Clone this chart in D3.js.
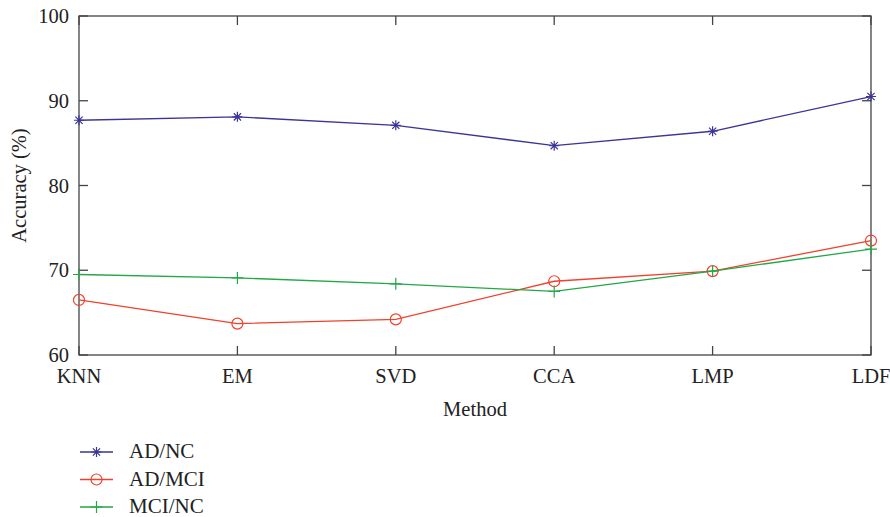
<!DOCTYPE html>
<html><head><meta charset="utf-8">
<script src="https://cdn.jsdelivr.net/npm/d3@7"></script>
<style>body{margin:0;background:#fff}svg{display:block}text{font-family:"Liberation Serif","DejaVu Serif",serif;fill:#222}</style>
</head><body><svg id="c" width="890" height="517"></svg>
<script>
const categories = ["KNN","EM","SVD","CCA","LMP","LDF"];
const adNC  = [87.7, 88.1, 87.1, 84.7, 86.4, 90.5];
const adMCI = [66.5, 63.7, 64.2, 68.7, 69.9, 73.5];
const mciNC = [69.5, 69.1, 68.4, 67.5, 69.9, 72.5];
const yTicks = [60, 70, 80, 90, 100];
const seriesNames = ["AD/NC","AD/MCI","MCI/NC"];

const series = [
  {name: seriesNames[0], values: adNC, color: "#3b3597", marker: "star"},
  {name: seriesNames[1], values: adMCI, color: "#f2402c", marker: "circle"},
  {name: seriesNames[2], values: mciNC, color: "#22a846", marker: "plus"}
];

const L = 79, R = 871, T = 16, B = 355;
const svg = d3.select("#c");
const x = d3.scalePoint().domain(categories).range([L, R]);
const y = d3.scaleLinear().domain([60, 100]).range([B, T]);
const axisColor = "#444";
const fs = 20.5;

svg.append("rect").attr("x", L).attr("y", T).attr("width", R - L).attr("height", B - T)
  .attr("fill", "none").attr("stroke", axisColor).attr("stroke-width", 1.3);

const tl = 9;
categories.forEach(c => {
  const xx = x(c);
  svg.append("line").attr("x1", xx).attr("x2", xx).attr("y1", B).attr("y2", B - tl).attr("stroke", axisColor).attr("stroke-width", 1.3);
  svg.append("line").attr("x1", xx).attr("x2", xx).attr("y1", T).attr("y2", T + tl).attr("stroke", axisColor).attr("stroke-width", 1.3);
  svg.append("text").attr("x", xx).attr("y", 383).attr("text-anchor", "middle").attr("font-size", fs).text(c);
});
yTicks.forEach(v => {
  const yy = y(v);
  svg.append("line").attr("x1", L).attr("x2", L + tl).attr("y1", yy).attr("y2", yy).attr("stroke", axisColor).attr("stroke-width", 1.3);
  svg.append("line").attr("x1", R).attr("x2", R - tl).attr("y1", yy).attr("y2", yy).attr("stroke", axisColor).attr("stroke-width", 1.3);
  svg.append("text").attr("x", 69).attr("y", yy + 7).attr("text-anchor", "end").attr("font-size", fs).text(v);
});

svg.append("text").attr("x", (L + R) / 2).attr("y", 416).attr("text-anchor", "middle").attr("font-size", fs).text("Method");
svg.append("text").attr("transform", `translate(26,${(T + B) / 2}) rotate(-90)`).attr("text-anchor", "middle").attr("font-size", fs).text("Accuracy (%)");

function drawMarker(g, type, cx, cy, color) {
  if (type === "circle") {
    g.append("circle").attr("cx", cx).attr("cy", cy).attr("r", 5.5).attr("fill", "none").attr("stroke", color).attr("stroke-width", 1.2);
  } else if (type === "plus") {
    const s = 6;
    g.append("path").attr("d", `M${cx - s},${cy}H${cx + s}M${cx},${cy - s}V${cy + s}`).attr("stroke", color).attr("stroke-width", 1.2);
  } else {
    const s = 5, d = 3.6;
    g.append("path").attr("d", `M${cx - s},${cy}H${cx + s}M${cx},${cy - s}V${cy + s}M${cx - d},${cy - d}L${cx + d},${cy + d}M${cx - d},${cy + d}L${cx + d},${cy - d}`)
      .attr("stroke", color).attr("stroke-width", 1.2);
  }
}

const line = d3.line().x((d, i) => x(categories[i])).y(d => y(d));
series.forEach(s => {
  const g = svg.append("g");
  g.append("path").attr("d", line(s.values)).attr("fill", "none").attr("stroke", s.color).attr("stroke-width", 1.3);
  s.values.forEach((v, i) => drawMarker(g, s.marker, x(categories[i]), y(v), s.color));
});

series.forEach((s, i) => {
  const ly = 452 + i * 27.5;
  const g = svg.append("g");
  g.append("line").attr("x1", 80).attr("x2", 113).attr("y1", ly).attr("y2", ly).attr("stroke", s.color).attr("stroke-width", 1.3);
  drawMarker(g, s.marker, 96.5, ly, s.color);
  svg.append("text").attr("x", 129).attr("y", ly + 6).attr("font-size", 21).text(s.name);
});
</script></body></html>
